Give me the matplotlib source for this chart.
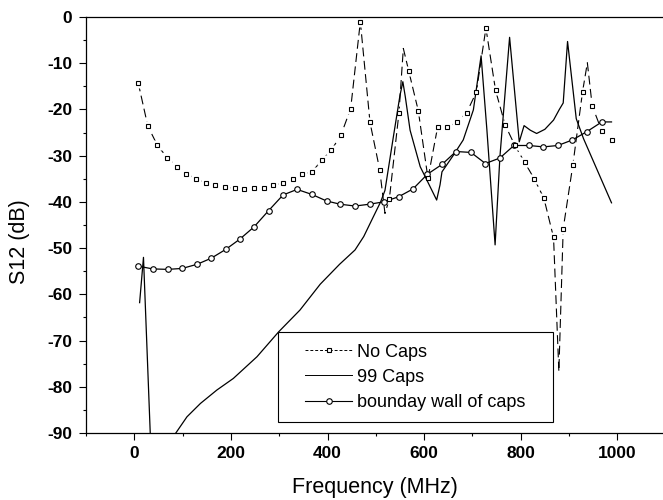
import numpy as np
import matplotlib
matplotlib.use('Agg')
import matplotlib.pyplot as plt
from matplotlib.lines import Line2D
from matplotlib.patches import Rectangle

plt.rcParams['font.family'] = ['Liberation Sans', 'DejaVu Sans']
plt.rcParams['axes.unicode_minus'] = False

# No Caps: square symbols every 20 MHz
nocaps_f = [8, 28, 48, 68, 88, 108, 128, 148, 168, 188, 208, 228, 248, 268, 288,
            308, 328, 348, 368, 388, 408, 428, 448, 468, 488, 508, 528, 548, 568,
            588, 608, 628, 648, 668, 688, 708, 728, 748, 768, 788, 808, 828, 848,
            868, 888, 908, 928, 948, 968, 988]
nocaps_db = [-14.2, -23.6, -27.8, -30.4, -32.4, -33.9, -35.0, -35.9, -36.3, -36.8,
             -37.1, -37.3, -37.1, -36.9, -36.4, -35.9, -35.0, -34.0, -33.5, -31.0,
             -28.8, -25.5, -19.8, -1.0, -22.8, -33.0, -39.4, -20.7, -11.6, -20.3,
             -34.9, -23.8, -23.8, -22.8, -20.7, -16.3, -2.4, -15.9, -23.4, -27.8,
             -31.4, -35.0, -39.2, -47.7, -45.8, -32.0, -16.2, -19.2, -24.7, -26.7]
# extra peaks / dips of the No Caps line between symbols
nocaps_extra_f = [519, 557, 879, 938]
nocaps_extra_db = [-42.5, -6.8, -76.7, -9.9]

# 99 Caps: plain line (nan = goes below the axis)
caps99_f = [11, 19, 33, np.nan, 86, 109, 137, 171, 205, 254, 299, 343, 385, 425,
            457, 475, 495, 510, 519, 537, 550, 556, 561, 571, 592, 602, 626, 633,
            637, 660, 681, 702, 718, 730, 747, 757, 777, 797, 807, 820, 833, 850,
            868, 880, 888, 897, 915, 930, 988]
caps99_db = [-61.8, -52.0, -90.0, np.nan, -90.0, -86.5, -83.6, -80.7, -78.2, -73.5,
             -68.1, -63.4, -57.8, -53.5, -50.4, -47.5, -43.2, -40.0, -37.5, -25.5,
             -17.0, -14.0, -17.2, -24.5, -32.4, -34.5, -39.6, -36.3, -33.5, -30.0,
             -26.6, -20.1, -8.4, -24.4, -49.3, -30.2, -4.4, -27.0, -23.5, -24.5,
             -25.2, -24.3, -22.3, -20.0, -18.6, -5.3, -22.0, -26.3, -40.2]

# boundary wall of caps: circle symbols every ~30 MHz
wall_f = [8, 38, 69, 99, 130, 159, 189, 218, 248, 278, 308, 337, 368, 398, 426,
          457, 487, 516, 547, 577, 607, 637, 666, 697, 727, 757, 786, 817, 847,
          877, 907, 937, 968]
wall_db = [-53.9, -54.5, -54.6, -54.4, -53.5, -52.2, -50.3, -48.1, -45.4, -41.9,
           -38.5, -37.3, -38.4, -39.8, -40.5, -40.9, -40.5, -40.0, -38.9, -37.2,
           -34.0, -31.9, -29.1, -29.3, -31.7, -30.5, -27.8, -27.8, -28.1, -27.8,
           -26.6, -24.8, -22.7]
wall_end_f = 988
wall_end_db = -22.7

labels = ['No Caps', '99 Caps', 'bounday wall of caps']

fig = plt.figure(figsize=(6.63, 5.0), dpi=100)
ax = fig.add_axes([86 / 663, 1 - 433 / 500, 579.6 / 663, 416 / 500])

# No Caps line: merge symbol points with extra peaks
line_f = np.array(nocaps_f + nocaps_extra_f, dtype=float)
line_db = np.array(nocaps_db + nocaps_extra_db, dtype=float)
order = np.argsort(line_f)
ax.plot(line_f[order], line_db[order], color='k', lw=0.8, ls=(0, (8, 4)), zorder=2)
# white gap around each symbol
ax.plot(nocaps_f, nocaps_db, ls='none', marker='s', ms=7, mfc='w', mec='none', zorder=2.1)
ax.plot(nocaps_f, nocaps_db, ls='none', marker='s', ms=3.5, mfc='w', mec='k',
        mew=0.8, zorder=4)

ax.plot(caps99_f, caps99_db, color='k', lw=0.9, zorder=3)

ax.plot(wall_f + [wall_end_f], wall_db + [wall_end_db], color='k', lw=0.9,
        marker='o', ms=4, mfc='w', mec='k', mew=0.8,
        markevery=list(range(len(wall_f))), zorder=3)

ax.set_xlim(-100, 1100)
ax.set_ylim(-90, 0)
ax.set_xticks([0, 200, 400, 600, 800, 1000])
ax.set_xticks([-100, 100, 300, 500, 700, 900], minor=True)
ax.set_yticks(np.arange(-90, 1, 10))
ax.set_yticks(np.arange(-85, 0, 10), minor=True)
ax.tick_params(which='major', direction='out', length=5, width=0.8, labelsize=12.5)
ax.tick_params(axis='x', which='major', pad=4)
ax.tick_params(axis='y', which='major', pad=5)
ax.tick_params(which='minor', direction='out', length=2.5, width=0.8)
for lab in ax.get_xticklabels() + ax.get_yticklabels():
    lab.set_fontweight('bold')
ax.spines['right'].set_visible(False)
for s in ['left', 'bottom', 'top']:
    ax.spines[s].set_linewidth(0.9)

ax.set_xlabel('Frequency (MHz)', fontsize=15.5)
ax.set_ylabel('S12 (dB)', fontsize=15.5)
ax.xaxis.set_label_coords(0.4986, -0.105)
ax.yaxis.set_label_coords(-0.0966, 0.46)

# legend box + entries
ax.add_patch(Rectangle((0.332, 0.027), 0.474, 0.2165, transform=ax.transAxes,
                       facecolor='w', edgecolor='k', lw=0.8, zorder=5))
handles = [
    Line2D([], [], color='k', lw=0.7, ls=(0, (3, 2)), marker='s', ms=3.5,
           mfc='w', mec='k', mew=0.8),
    Line2D([], [], color='k', lw=0.7),
    Line2D([], [], color='k', lw=0.8, marker='o', ms=4, mfc='w', mec='k', mew=0.8),
]
leg = ax.legend(handles, labels, loc='center left', bbox_to_anchor=(0.3625, 0.134),
                frameon=False, borderpad=0, handlelength=2.6, handletextpad=0.3,
                labelspacing=0.45, fontsize=13, numpoints=1)
leg.set_zorder(6)

fig.savefig('out.png', dpi=100)
